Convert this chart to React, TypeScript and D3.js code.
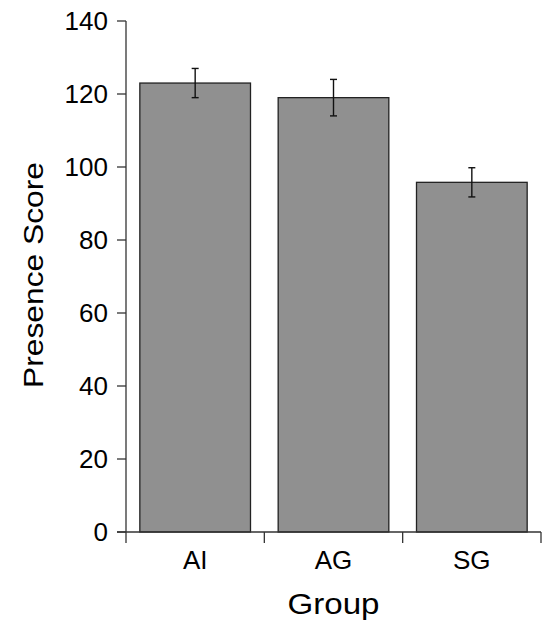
import React from 'react'
import * as d3 from 'd3'

// data
const groups = ['AI', 'AG', 'SG']
const scores = [123, 119, 95.8]
const errors = [4, 5, 4]
const yTicks = [0, 20, 40, 60, 80, 100, 120, 140]

export default function App() {
  const width = 543
  const height = 622
  const margin = { top: 21, right: 2, bottom: 90, left: 126 }
  const innerW = width - margin.left - margin.right
  const innerH = height - margin.top - margin.bottom

  const x = d3.scaleBand().domain(groups).range([0, innerW]).paddingInner(0.2).paddingOuter(0.1)
  const y = d3.scaleLinear().domain([0, 140]).range([innerH, 0])
  const step = x.step()
  const font = 'Liberation Sans, Arial, sans-serif'

  return (
    <svg width={width} height={height} style={{ position: 'absolute', left: 0, top: 0 }}>
      <g transform={`translate(${margin.left},${margin.top})`}>
        {/* bars */}
        {groups.map((g, i) => (
          <rect key={g} x={x(g)} y={y(scores[i])} width={x.bandwidth()} height={innerH - y(scores[i])}
            fill="#909090" stroke="#222" strokeWidth={1.3} />
        ))}
        {/* error bars */}
        {groups.map((g, i) => {
          const cx = (x(g) as number) + x.bandwidth() / 2
          const top = y(scores[i] + errors[i])
          const bot = y(scores[i] - errors[i])
          return (
            <g key={g + 'e'} stroke="#111" strokeWidth={1.4}>
              <line x1={cx} x2={cx} y1={top} y2={bot} />
              <line x1={cx - 3.5} x2={cx + 3.5} y1={top} y2={top} />
              <line x1={cx - 3.5} x2={cx + 3.5} y1={bot} y2={bot} />
            </g>
          )
        })}
        {/* y axis */}
        <line x1={0} x2={0} y1={0} y2={innerH} stroke="#333" strokeWidth={1.3} />
        {yTicks.map(t => (
          <g key={t} transform={`translate(0,${y(t)})`}>
            <line x1={-9} x2={0} stroke="#333" strokeWidth={1.3} />
            <text x={-18} dy="0.36em" textAnchor="end" fontSize={26} fontFamily={font} fill="#000">{t}</text>
          </g>
        ))}
        {/* x axis */}
        <line x1={-9} x2={innerW} y1={innerH} y2={innerH} stroke="#333" strokeWidth={1.3} />
        {d3.range(groups.length + 1).map(k => (
          <line key={k} x1={k * step} x2={k * step} y1={innerH} y2={innerH + 11} stroke="#333" strokeWidth={1.3} />
        ))}
        {groups.map(g => (
          <text key={g} x={(x(g) as number) + x.bandwidth() / 2} y={innerH + 37} textAnchor="middle"
            fontSize={26} fontFamily={font} fill="#000">{g}</text>
        ))}
        <text x={innerW / 2} y={innerH + 82} textAnchor="middle" fontSize={29} fontFamily={font} fill="#000"
          textLength={92} lengthAdjust="spacingAndGlyphs">Group</text>
        <text transform={`translate(${43 - margin.left},${275 - margin.top}) rotate(-90)`} textAnchor="middle"
          fontSize={28} fontFamily={font} fill="#000" textLength={226} lengthAdjust="spacingAndGlyphs">Presence Score</text>
      </g>
    </svg>
  )
}
